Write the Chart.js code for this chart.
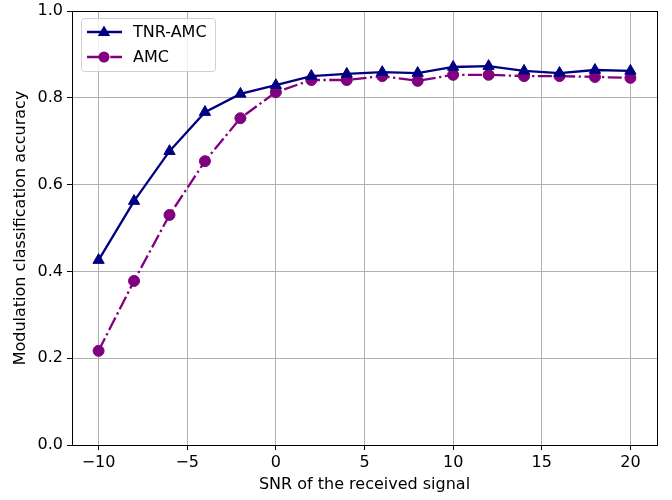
<!DOCTYPE html>
<html>
<head>
<meta charset="utf-8">
<script src="https://cdn.jsdelivr.net/npm/chart.js@4/dist/chart.umd.min.js"></script>
<style>
  html, body { margin: 0; padding: 0; background: #fff; }
  #wrap { width: 672px; height: 500px; }
</style>
</head>
<body>
<div id="wrap"><canvas id="c" width="672" height="500"></canvas></div>
<script>
// SNR values (dB)
const snr = [-10, -8, -6, -4, -2, 0, 2, 4, 6, 8, 10, 12, 14, 16, 18, 20];
// accuracy
const tnrAmc = [0.426, 0.562, 0.677, 0.767, 0.809, 0.829, 0.850, 0.855, 0.859, 0.857, 0.871, 0.873, 0.862, 0.857, 0.864, 0.862];
const amc    = [0.217, 0.378, 0.530, 0.654, 0.753, 0.813, 0.841, 0.841, 0.850, 0.839, 0.853, 0.853, 0.850, 0.850, 0.848, 0.846];
const seriesNames = ['TNR-AMC', 'AMC'];
const xTicks = [-10, -5, 0, 5, 10, 15, 20];
const yTicks = [0, 0.2, 0.4, 0.6, 0.8, 1.0];

const FONT = "'DejaVu Sans', sans-serif";
const FS = 16;
Chart.defaults.font.family = FONT;
Chart.defaults.font.size = FS;
Chart.defaults.color = '#000';

// frame around the plot area + legend box inside (matplotlib style)
const framePlugin = {
  id: 'frame',
  afterDraw(chart) {
    const { ctx, chartArea: a } = chart;
    ctx.save();
    ctx.strokeStyle = '#000';
    ctx.lineWidth = 1;
    ctx.strokeRect(a.left + 0.5, a.top + 0.5, a.right - a.left, a.bottom - a.top);

    // legend
    const bx = a.left + 9, by = a.top + 7, bw = 134, bh = 53;
    ctx.fillStyle = 'rgba(255,255,255,0.8)';
    ctx.strokeStyle = '#d0d0d0';
    ctx.beginPath();
    ctx.roundRect(bx + 0.5, by + 0.5, bw, bh, 3);
    ctx.fill();
    ctx.stroke();
    chart.data.datasets.forEach((ds, i) => {
      const y = by + 14 + i * 25;
      const mx = bx + 23;
      ctx.strokeStyle = ds.borderColor;
      ctx.lineWidth = ds.borderWidth;
      ctx.setLineDash(ds.borderDash || []);
      ctx.beginPath();
      ctx.moveTo(bx + 6, y);
      ctx.lineTo(bx + 41, y);
      ctx.stroke();
      ctx.setLineDash([]);
      ctx.fillStyle = ds.pointBackgroundColor;
      ctx.beginPath();
      if (ds.pointStyle === 'triangle') {
        const r = ds.pointRadius;
        ctx.moveTo(mx, y - r);
        ctx.lineTo(mx + r * 0.95, y + r * 0.6);
        ctx.lineTo(mx - r * 0.95, y + r * 0.6);
        ctx.closePath();
      } else {
        ctx.arc(mx, y, ds.pointRadius, 0, Math.PI * 2);
      }
      ctx.fill();
      ctx.fillStyle = '#000';
      ctx.font = FS + 'px ' + FONT;
      ctx.textBaseline = 'middle';
      ctx.fillText(ds.label, bx + 52, y + 1);
    });
    ctx.restore();
  }
};

new Chart(document.getElementById('c').getContext('2d'), {
  type: 'line',
  data: {
    datasets: [
      {
        label: seriesNames[0],
        data: snr.map((x, i) => ({ x: x, y: tnrAmc[i] })),
        borderColor: '#000080',
        backgroundColor: '#000080',
        pointBackgroundColor: '#000080',
        pointBorderColor: '#000080',
        borderWidth: 2.3,
        pointStyle: 'triangle',
        pointRadius: 6.5,
        pointBorderWidth: 1,
        tension: 0
      },
      {
        label: seriesNames[1],
        data: snr.map((x, i) => ({ x: x, y: amc[i] })),
        borderColor: '#800080',
        backgroundColor: '#800080',
        pointBackgroundColor: '#800080',
        pointBorderColor: '#800080',
        borderWidth: 2.3,
        borderDash: [14, 3.5, 2.3, 3.5],
        pointStyle: 'circle',
        pointRadius: 5.5,
        pointBorderWidth: 1,
        tension: 0
      }
    ]
  },
  options: {
    responsive: false,
    animation: false,
    layout: { padding: { left: 0, right: 15, top: 0, bottom: 0 } },
    plugins: {
      legend: { display: false },
      tooltip: { enabled: false }
    },
    scales: {
      x: {
        type: 'linear',
        min: -11.5,
        max: 21.5,
        afterBuildTicks: s => { s.ticks = xTicks.map(v => ({ value: v })); },
        afterFit: s => { s.height = 55; },
        ticks: {
          padding: 3,
          callback: v => (v < 0 ? '\u2212' + Math.abs(v) : String(v)),
          maxRotation: 0
        },
        grid: { color: '#b0b0b0', lineWidth: 1, tickLength: 5, tickColor: '#000' },
        border: { display: false },
        title: { display: true, text: 'SNR of the received signal', padding: { top: 0, bottom: 6 } }
      },
      y: {
        type: 'linear',
        min: 0,
        max: 1,
        afterBuildTicks: s => { s.ticks = yTicks.map(v => ({ value: v })); },
        afterFit: s => { s.width = 72; s.paddingTop = 11; s.paddingBottom = 0; },
        ticks: { padding: 4, callback: v => v.toFixed(1) },
        grid: { color: '#b0b0b0', lineWidth: 1, tickLength: 5, tickColor: '#000' },
        border: { display: false },
        title: { display: true, text: 'Modulation classification accuracy', padding: { top: 11, bottom: 0 } }
      }
    }
  },
  plugins: [framePlugin]
});
</script>
</body>
</html>
